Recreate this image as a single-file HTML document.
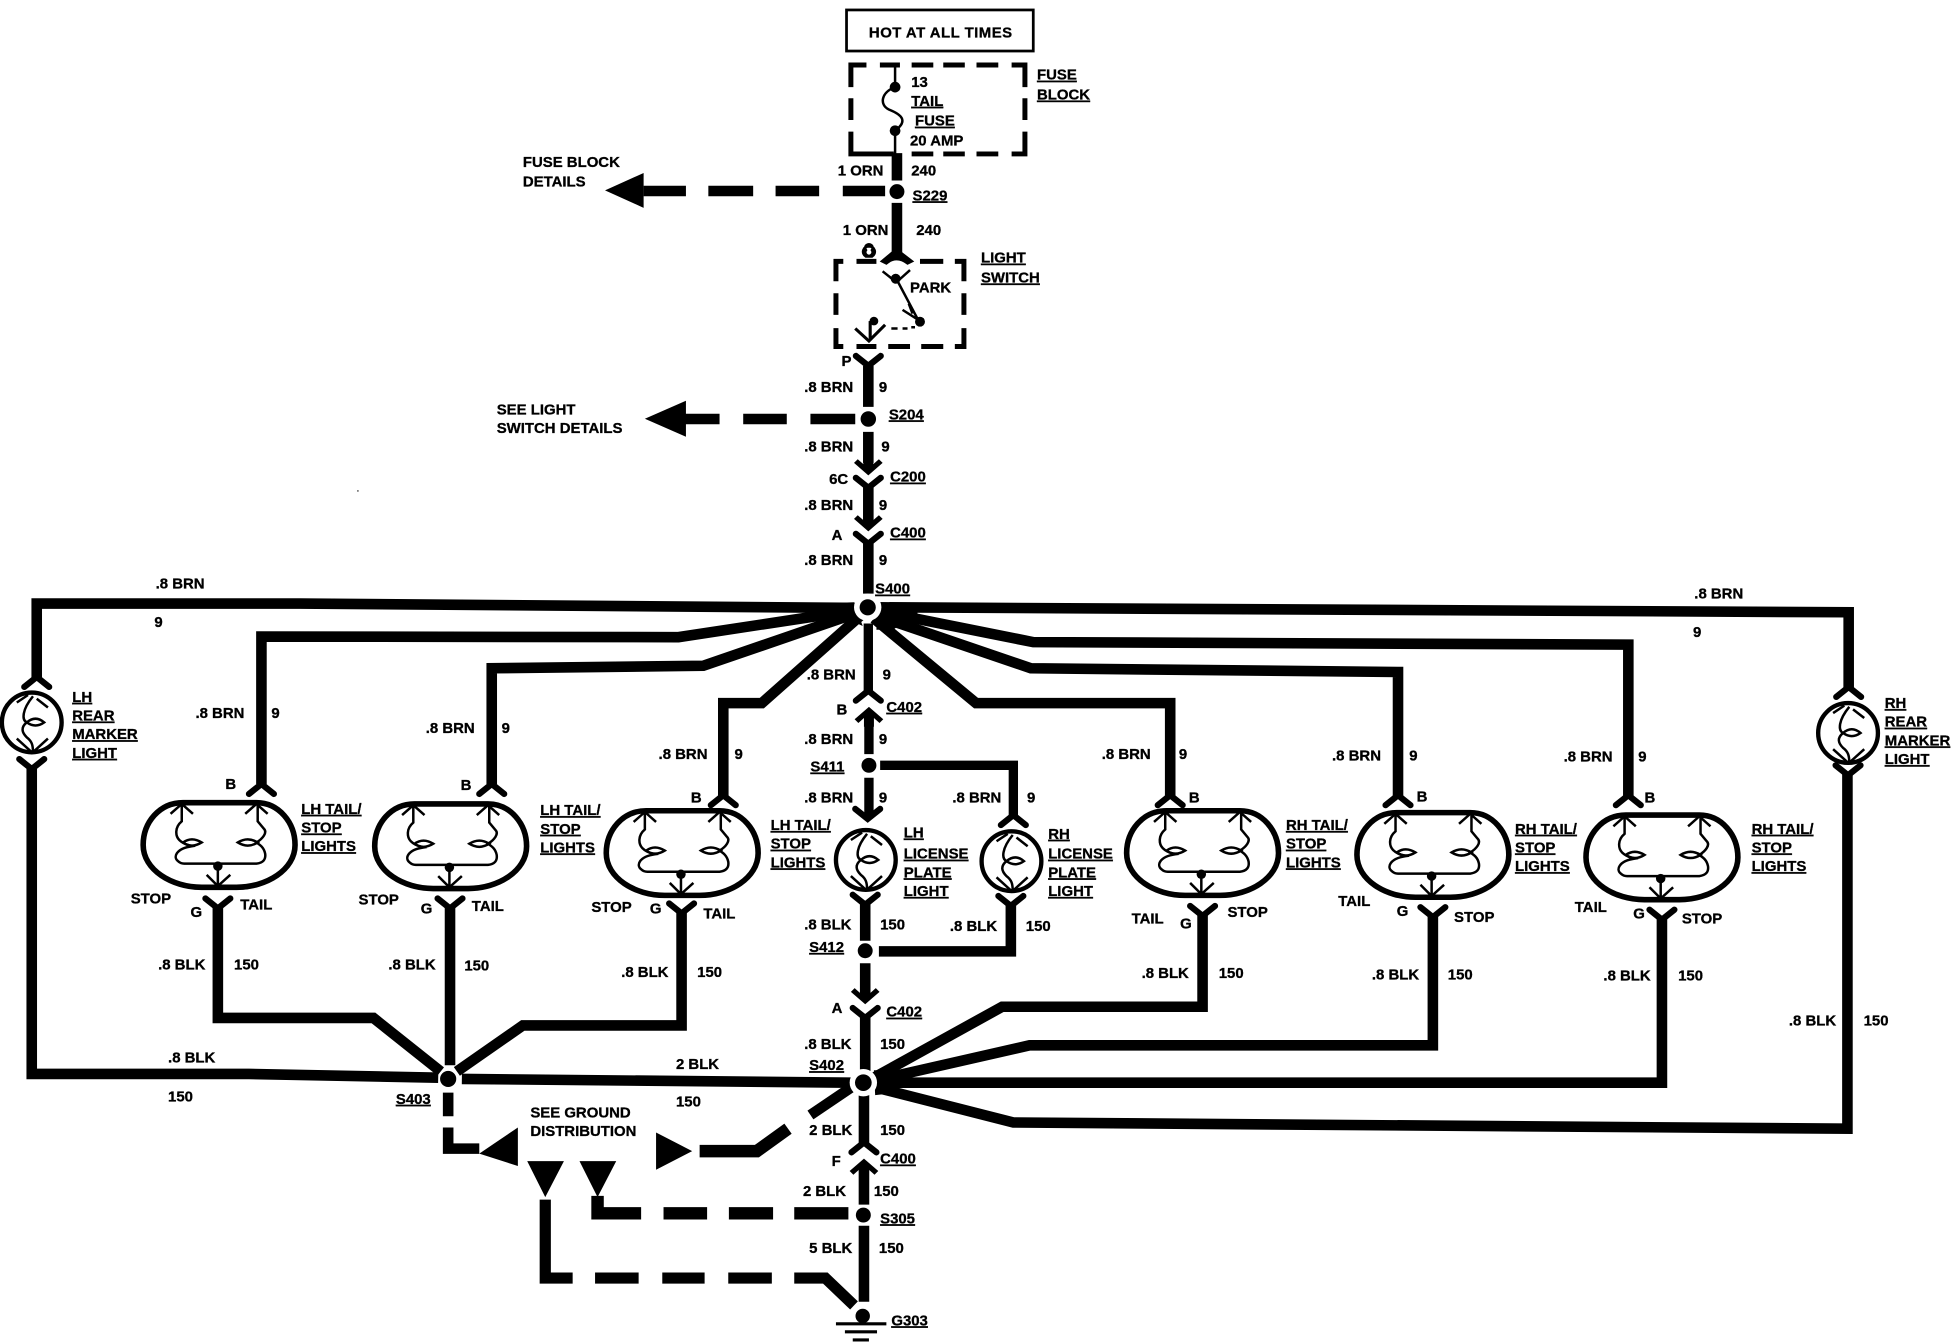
<!DOCTYPE html>
<html><head><meta charset="utf-8"><title>Tail lights wiring diagram</title>
<style>
html,body{margin:0;padding:0;background:#fff}
svg{display:block}
text{font-family:"Liberation Sans",sans-serif;font-weight:700;font-size:12px;fill:#000;stroke:#000;stroke-width:.25px}
.u{text-decoration:underline;text-underline-offset:2px;text-decoration-thickness:1.5px}
.w{fill:none;stroke:#000;stroke-width:8.5}
.d{fill:none;stroke:#000;stroke-width:4}
.t{fill:none;stroke:#000;stroke-width:2}
.c{fill:none;stroke:#000;stroke-width:5;stroke-linecap:round}
</style></head><body>
<svg width="1952" height="1344" viewBox="0 0 1568 1080" preserveAspectRatio="none" xmlns="http://www.w3.org/2000/svg">
<defs>
<path id="yd" class="c" d="M-10,-7 L0,1 L10,-7"/>
<path id="yu" class="c" d="M-10,7 L0,-1 L10,7"/>
<path id="ad" d="M0,0 L-11.5,-10 L-8.5,-13 L-4,-9 V-16 H4 V-9 L8.5,-13 L11.5,-10Z"/>
<path id="au" d="M0,0 L-11.5,10 L-8.5,13 L-4,9 V16 H4 V9 L8.5,13 L11.5,10Z"/>
<g id="lamp">
<path fill="none" stroke="#000" stroke-width="4.5" d="M-29,-34 H30 C48,-34 61,-18 61,0 C61,20 38,34 14,34 H-14 C-38,34 -61,20 -61,0 C-61,-18 -48,-34 -29,-34Z"/>
<path class="t" d="M-39,-25 L-30,-33 L-21,-25 M-30,-33 V-19 C-36,-14 -35,-7 -32,-4 C-28,0 -24,0 -22,1 C-35,3 -37,10 -33,13 Q-31,15 -28,15 H30 Q38,14 37,7 C36,2 33,0 30,-2 C35,-5 39,-10 36,-13 L31,-19 V-33 M21,-25 L30,-33 L39,-25"/>
<path class="t" d="M-29,-2 Q-22,-7 -14,-2 Q-22,3 -29,-2Z M15,-2 Q23,-7 31,-2 Q23,3 15,-2Z"/>
<circle cx="-1" cy="17" r="3.8"/>
<path class="t" d="M-1,17 V33 M-10,24 L-1,33 L9,24"/>
</g>
<g id="bulb">
<circle r="24" fill="none" stroke="#000" stroke-width="3.5"/>
<path class="t" d="M-12,-16 L-3,-22 M4,-19 L13,-12 M1,-21 C-8,-10 -8,-2 -4,0 C-9,4 -8,8 -4,12 C0,15 1,18 1,24 M-12,13 L-1,23 M13,13 L2,23"/>
<path class="t" d="M-4,0 Q3,-6 10,0 Q3,5 -4,0Z"/>
</g>
</defs>

<rect x="680" y="8" width="150" height="33" fill="none" stroke="#000" stroke-width="2.2"/>
<path class="d" d="M696,52.2 H683.5 V70 M683.5,79 V96.4 M683.5,105.8 V123.7 H718 M706.8,52.2 H722.9 M732.3,52.2 H749.7 M757.7,52.2 H775 M784.4,52.2 H801.9 M812.6,52.2 H823.3 V70 M823.3,79 V96.4 M823.3,105.8 V123.7 H812.6 M732.3,123.7 H749.7 M757.7,123.7 H775 M784.4,123.7 H801.9"/>
<path class="t" d="M719,52 V70 C708,74 706,84 714,88 C724,92 730,97 719,105 V124"/>
<circle cx="719" cy="70" r="4.3"/><circle cx="719" cy="105" r="4.3"/>

<path class="w" d="M720.5,123 V145 M720.5,163 V203 M517,153.5 H551 M569,153.5 H605 M623,153.5 H658 M677,153.5 H711"/>
<circle cx="720.5" cy="154" r="6"/>
<path d="M486,153 L517,139 V167Z"/>

<path class="d" d="M677.4,210 H671.5 V226 M671.5,235.6 V253 M671.5,263.7 V278.4 H677.4 M688,210 H704 M688,278.4 H704 M739,210 H757.7 M767,210 H774.3 V226 M774.3,235.6 V253 M774.3,263.7 V278.4 H767 M713.5,278.4 H731 M740,278.4 H757.7"/>
<path d="M698,198 a4.3,4.3 0 0 1 2.5,8 h-5 a4.3,4.3 0 0 1 2.5,-8Z M695.5,201 a3,3 0 1 0 5,0 a3,3 0 1 0 -5,0Z" fill="none" stroke="#000" stroke-width="2.2"/>
<path d="M708,210 L720,200 L733,210 L729,212 Q720,205 712,212Z" stroke="#000" stroke-width="1.5"/>
<path class="t" d="M709,218 L719,226 M731,217 L721,226 M720,224 L738,258 M730,244 L733,252 M725,249 L736,256"/>
<circle cx="719.5" cy="224" r="4"/><circle cx="739" cy="258.5" r="4"/>
<circle cx="702" cy="258" r="3.5"/>
<path fill="none" stroke="#000" stroke-width="2.5" d="M699,258 V272"/>
<path fill="none" stroke="#000" stroke-width="2.5" d="M687,264 L698,274 L711,261"/>
<path d="M716,263 H721 V265 H716Z M725,263 H729 V265 H725Z M732,262 H735 V264 H732Z"/>

<path class="w" d="M697.5,294 V327 M697.5,347 V372 M697.5,391 V418 M697.5,436 V477"/>
<use href="#yd" x="697.5" y="293"/>
<use href="#ad" x="697.5" y="382"/>
<use href="#yd" x="697.5" y="391"/>
<use href="#ad" x="697.5" y="427"/>
<use href="#yd" x="697.5" y="436"/>
<path class="w" d="M550,336.7 H578 M597,336.7 H632 M651,336.7 H687"/>
<path d="M518,336.5 L551,322 V351Z"/>
<circle cx="697.5" cy="336.7" r="6.2"/>

<!-- S400 star -->
<path class="w" d="M29.5,546 V485 H241 L690,488.5"/>
<path class="w" d="M210,630 V511.5 L545,512 L690,490"/>
<path class="w" d="M395,630 V537 L565,535 L690,492"/>
<path class="w" d="M581,640 V565 H612 L692,494"/>
<path class="w" d="M940,640 V565 H784 L702,497"/>
<path class="w" d="M1123,640 V540 L828,537 L705,495"/>
<path class="w" d="M1308,640 V518 L830,516 L705,491"/>
<path class="w" d="M1485,553 V492 L705,488"/>
<path d="M686,484 L658,485 L656,498 L680,497 L693,503Z M705,484 L737,487 L737,493 L727,499 L717.5,506 L704,506Z"/>
<circle cx="697" cy="488" r="11" fill="#fff"/>
<circle cx="697" cy="488" r="6.5"/>
<path class="w" style="stroke-width:7.5" d="M697.5,501 V556 M698,575 V606 M698,625 V657"/>
<use href="#yu" x="697.5" y="556"/>
<use href="#au" x="698" y="568"/>
<use href="#yd" x="697" y="657"/>
<circle cx="698" cy="615" r="6"/>
<path class="w" d="M707,615 H814 V657" style="stroke-width:7.5"/>
<use href="#yu" x="814" y="656"/>

<use href="#yu" x="29.5" y="545"/>
<use href="#bulb" x="25.5" y="580.5"/>
<use href="#yd" x="25.5" y="617"/>
<use href="#yu" x="1485" y="553"/>
<use href="#bulb" x="1484.5" y="589"/>
<use href="#yd" x="1484.5" y="622"/>

<use href="#bulb" x="695.5" y="691"/>
<use href="#bulb" x="812.5" y="692"/>
<use href="#yd" x="695" y="726"/>
<use href="#yd" x="812" y="727"/>
<use href="#lamp" x="176" y="679"/>
<use href="#lamp" x="362" y="680"/>
<use href="#lamp" x="548" y="685.5"/>
<use href="#lamp" x="966" y="685.5"/>
<use href="#lamp" x="1151" y="687"/>
<use href="#lamp" x="1335" y="689"/>
<use href="#yu" x="210" y="631"/>
<use href="#yu" x="395" y="631"/>
<use href="#yu" x="581" y="640"/>
<use href="#yu" x="940" y="640"/>
<use href="#yu" x="1123" y="640"/>
<use href="#yu" x="1308" y="640"/>
<use href="#yd" x="175" y="729"/>
<use href="#yd" x="361.5" y="729"/>
<use href="#yd" x="547.5" y="733"/>
<use href="#yd" x="966" y="735"/>
<use href="#yd" x="1151" y="736"/>
<use href="#yd" x="1335" y="738"/>

<!-- ground wires -->
<path class="w" d="M175,729 V818 H300 L354,861"/>
<path class="w" d="M361.5,729 V856"/>
<path class="w" d="M547.5,733 V824 H420 L367,861"/>
<path class="w" d="M25.5,617 V863 H200 L352,866"/>
<path class="w" d="M371,867 L684,870"/>
<circle cx="360" cy="867" r="6.5"/>
<path class="w" d="M360,878 V897 M360,906 V923 H385"/>
<path d="M385,927 L416,906 V937Z"/>
<path d="M556,925 L527,910 V940Z"/>
<path class="w" style="stroke-width:10" d="M562,925 H608 L633,907"/>
<path class="w" d="M651,896 L685,873"/>

<path class="w" d="M695,756 V726 M812,727 V764.5 H706 M695,774 V798 M695,817 V861 M694,878 V919"/>
<circle cx="695" cy="764" r="6"/>
<use href="#ad" x="695" y="807"/>
<use href="#yd" x="695" y="817"/>
<path class="w" d="M702,866 L805,809 H966 V735"/>
<path class="w" d="M704,868 L827,840 H1151 V736"/>
<path class="w" d="M704,870 H1335 V738"/>
<path class="w" d="M704,874 L814,902 L1484,907 V622"/>
<path d="M702,860 L724,860 L722,878 L703,880Z"/>
<circle cx="693.5" cy="870" r="11" fill="#fff"/>
<circle cx="693.5" cy="870" r="6.7"/>
<use href="#yu" x="694" y="919"/>
<use href="#au" x="694" y="931"/>
<path class="w" d="M694,938 V968 M694,985 V1046"/>
<circle cx="693.5" cy="976.4" r="6"/>
<path class="w" style="stroke-width:10" d="M638,975 H681.5 M585.5,975 H621 M533,975 H568 M515,975 H480 V961"/>
<path d="M465.5,933 H495 L480,962Z M423.5,933 H453 L438,962Z"/>
<path class="w" style="stroke-width:9" d="M438,964 V1027 H460 M478,1027 H513 M532,1027 H566 M585,1027 H620 M638,1027 H663 L686,1049"/>
<circle cx="693" cy="1057.5" r="5.8"/>
<path d="M671.5,1062.5 H712 V1065 H671.5Z M678.7,1069 H704.5 V1071.5 H678.7Z M685,1075.5 H698 V1078 H685Z"/>
<rect x="287" y="394" width="1" height="1"/>

<text x="698" y="30" textLength="115">HOT AT ALL TIMES</text>
<text x="833" y="64" class="u">FUSE</text><text x="833" y="80" class="u">BLOCK</text>
<text x="732" y="70">13</text><text x="732" y="85" class="u">TAIL</text><text x="735" y="101" class="u">FUSE</text><text x="731" y="117">20 AMP</text>
<text x="420" y="134">FUSE BLOCK</text><text x="420" y="150">DETAILS</text>
<text x="673" y="141">1 ORN</text><text x="732" y="141">240</text><text x="733" y="161" class="u">S229</text>
<text x="677" y="189">1 ORN</text><text x="736" y="189">240</text>
<text x="788" y="211" class="u">LIGHT</text><text x="788" y="227" class="u">SWITCH</text><text x="731" y="235">PARK</text>
<text x="676" y="294">P</text>
<text x="646" y="315">.8 BRN</text><text x="706" y="315">9</text><text x="714" y="337" class="u">S204</text>
<text x="399" y="333">SEE LIGHT</text><text x="399" y="348">SWITCH DETAILS</text>
<text x="646" y="363">.8 BRN</text><text x="708" y="363">9</text><text x="666" y="389">6C</text><text x="715" y="387" class="u">C200</text>
<text x="646" y="410">.8 BRN</text><text x="706" y="410">9</text><text x="668" y="434">A</text><text x="715" y="432" class="u">C400</text>
<text x="646" y="454">.8 BRN</text><text x="706" y="454">9</text><text x="703" y="477" class="u">S400</text>
<text x="125" y="473">.8 BRN</text><text x="124" y="504">9</text>
<text x="1361" y="481">.8 BRN</text><text x="1360" y="512">9</text>
<text x="157" y="577">.8 BRN</text><text x="218" y="577">9</text><text x="181" y="634">B</text>
<text x="342" y="589">.8 BRN</text><text x="403" y="589">9</text><text x="370" y="635">B</text>
<text x="529" y="610">.8 BRN</text><text x="590" y="610">9</text><text x="555" y="645">B</text>
<text x="648" y="546">.8 BRN</text><text x="709" y="546">9</text><text x="672" y="574">B</text><text x="712" y="572" class="u">C402</text>
<text x="646" y="598">.8 BRN</text><text x="706" y="598">9</text><text x="651" y="620" class="u">S411</text>
<text x="646" y="645">.8 BRN</text><text x="706" y="645">9</text><text x="765" y="645">.8 BRN</text><text x="825" y="645">9</text>
<text x="885" y="610">.8 BRN</text><text x="947" y="610">9</text><text x="955" y="645">B</text>
<text x="1070" y="611">.8 BRN</text><text x="1132" y="611">9</text><text x="1138" y="644">B</text>
<text x="1256" y="612">.8 BRN</text><text x="1316" y="612">9</text><text x="1321" y="645">B</text>
<text x="58" y="564" class="u">LH</text><text x="58" y="579" class="u">REAR</text><text x="58" y="594" class="u">MARKER</text><text x="58" y="609" class="u">LIGHT</text>
<text x="1514" y="569" class="u">RH</text><text x="1514" y="584" class="u">REAR</text><text x="1514" y="599" class="u">MARKER</text><text x="1514" y="614" class="u">LIGHT</text>
<text x="242" y="654" class="u">LH TAIL/</text><text x="242" y="669" class="u">STOP</text><text x="242" y="684" class="u">LIGHTS</text>
<text x="434" y="655" class="u">LH TAIL/</text><text x="434" y="670" class="u">STOP</text><text x="434" y="685" class="u">LIGHTS</text>
<text x="619" y="667" class="u">LH TAIL/</text><text x="619" y="682" class="u">STOP</text><text x="619" y="697" class="u">LIGHTS</text>
<text x="1033" y="667" class="u">RH TAIL/</text><text x="1033" y="682" class="u">STOP</text><text x="1033" y="697" class="u">LIGHTS</text>
<text x="1217" y="670" class="u">RH TAIL/</text><text x="1217" y="685" class="u">STOP</text><text x="1217" y="700" class="u">LIGHTS</text>
<text x="1407" y="670" class="u">RH TAIL/</text><text x="1407" y="685" class="u">STOP</text><text x="1407" y="700" class="u">LIGHTS</text>
<text x="726" y="673" class="u">LH</text><text x="726" y="690" class="u">LICENSE</text><text x="726" y="705" class="u">PLATE</text><text x="726" y="720" class="u">LIGHT</text>
<text x="842" y="674" class="u">RH</text><text x="842" y="690" class="u">LICENSE</text><text x="842" y="705" class="u">PLATE</text><text x="842" y="720" class="u">LIGHT</text>
<text x="105" y="726">STOP</text><text x="153" y="737">G</text><text x="193" y="731">TAIL</text>
<text x="288" y="727">STOP</text><text x="338" y="734">G</text><text x="379" y="732">TAIL</text>
<text x="475" y="733">STOP</text><text x="522" y="734">G</text><text x="565" y="738">TAIL</text>
<text x="909" y="742">TAIL</text><text x="948" y="746">G</text><text x="986" y="737">STOP</text>
<text x="1075" y="728">TAIL</text><text x="1122" y="736">G</text><text x="1168" y="741">STOP</text>
<text x="1265" y="733">TAIL</text><text x="1312" y="738">G</text><text x="1351" y="742">STOP</text>
<text x="127" y="779">.8 BLK</text><text x="188" y="779">150</text>
<text x="312" y="779">.8 BLK</text><text x="373" y="780">150</text>
<text x="499" y="785">.8 BLK</text><text x="560" y="785">150</text>
<text x="646" y="747">.8 BLK</text><text x="707" y="747">150</text><text x="763" y="748">.8 BLK</text><text x="824" y="748">150</text><text x="650" y="765" class="u">S412</text>
<text x="668" y="814">A</text><text x="712" y="817" class="u">C402</text>
<text x="646" y="843">.8 BLK</text><text x="707" y="843">150</text><text x="650" y="860" class="u">S402</text>
<text x="917" y="786">.8 BLK</text><text x="979" y="786">150</text>
<text x="1102" y="787">.8 BLK</text><text x="1163" y="787">150</text>
<text x="1288" y="788">.8 BLK</text><text x="1348" y="788">150</text>
<text x="1437" y="824">.8 BLK</text><text x="1497" y="824">150</text>
<text x="135" y="854">.8 BLK</text><text x="135" y="885">150</text>
<text x="543" y="859">2 BLK</text><text x="543" y="889">150</text>
<text x="318" y="887" class="u">S403</text>
<text x="426" y="898">SEE GROUND</text><text x="426" y="913">DISTRIBUTION</text>
<text x="650" y="912">2 BLK</text><text x="707" y="912">150</text>
<text x="668" y="937">F</text><text x="707" y="935" class="u">C400</text>
<text x="645" y="961">2 BLK</text><text x="702" y="961">150</text>
<text x="707" y="983" class="u">S305</text>
<text x="650" y="1007">5 BLK</text><text x="706" y="1007">150</text>
<text x="716" y="1065" class="u">G303</text>
</svg>
</body></html>
